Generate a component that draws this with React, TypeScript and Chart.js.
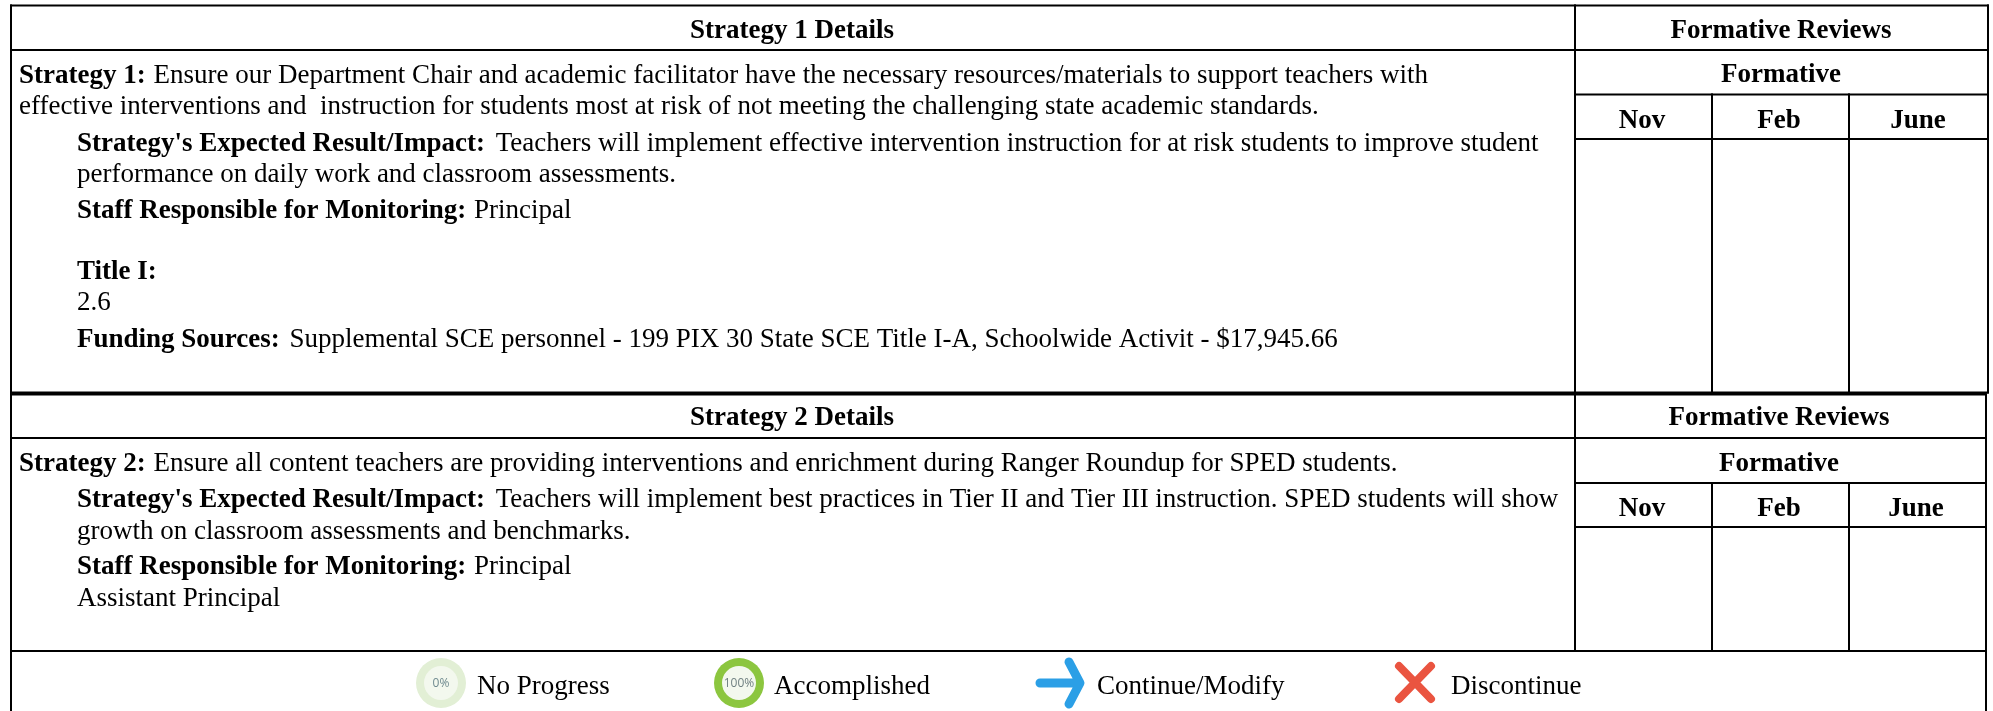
import React, { useEffect, useRef } from "react";
import { Chart, registerables } from "chart.js";

Chart.register(...registerables);

const headerTitles = ["Strategy 1 Details", "Strategy 2 Details"];
const reviewTitle = "Formative Reviews";
const reviewSubtitle = "Formative";
const reviewMonths = ["Nov", "Feb", "June"];

const strategy1Lines: [string, string][] = [
  ["Strategy 1:", " Ensure our Department Chair and academic facilitator have the necessary resources/materials to support teachers with"],
  ["", "effective interventions and  instruction for students most at risk of not meeting the challenging state academic standards."],
  ["Strategy's Expected Result/Impact:", " Teachers will implement effective intervention instruction for at risk students to improve student"],
  ["", "performance on daily work and classroom assessments."],
  ["Staff Responsible for Monitoring:", " Principal"],
  ["Title I:", ""],
  ["", "2.6"],
  ["Funding Sources:", " Supplemental SCE personnel - 199 PIX 30 State SCE Title I-A, Schoolwide Activit - $17,945.66"],
];
const strategy2Lines: [string, string][] = [
  ["Strategy 2:", " Ensure all content teachers are providing interventions and enrichment during Ranger Roundup for SPED students."],
  ["Strategy's Expected Result/Impact:", " Teachers will implement best practices in Tier II and Tier III instruction. SPED students will show"],
  ["", "growth on classroom assessments and benchmarks."],
  ["Staff Responsible for Monitoring:", " Principal"],
  ["", "Assistant Principal"],
];
const legendLabels = ["No Progress", "Accomplished", "Continue/Modify", "Discontinue"];
const progressLabels = ["0%", "100%"];

// Layout, in the pixel units of the two page-sized linear scales.
const W = 1993, H = 711;
const FONT = '"Liberation Serif"';
const SIZE = 27, SX = 1;
const L = 11;
const s1Base = [83, 114, 151, 182, 218, 279, 310, 347];
const s1X = [19, 19, 77, 77, 77, 77, 77, 77];
const s1Gap = [1, 0, 4, 0, 1, 0, 0, 3];
const s1Spacing = [0, 0, 0, 0, 0, 0, 0, 0.35];
const s2Base = [471, 507, 539, 574, 606];
const s2X = [19, 77, 77, 77, 77];
const s2Gap = [1, 4, 0, 1, 0];
const s2Spacing = [0, 0, 0, 0, 0];
const legendTextX = [477, 774, 1097, 1451];

const GAP = { x: NaN, y: NaN };
const seg = (x1: number, y1: number, x2: number, y2: number) => [{ x: x1, y: y1 }, { x: x2, y: y2 }, GAP];
const rules = [
  seg(L, 5.5, 1988, 5.5), seg(L, 50, 1988, 50), seg(1575, 94.5, 1988, 94.5), seg(1575, 139, 1988, 139),
  seg(L, 392.5, 1988, 392.5), seg(L, 394.5, 1986, 394.5), seg(L, 438, 1986, 438),
  seg(1575, 483, 1986, 483), seg(1575, 527, 1986, 527), seg(L, 651, 1986, 651),
  seg(L, 5, L, 711), seg(1988, 5, 1988, 393), seg(1986, 394, 1986, 711),
  seg(1575, 5, 1575, 651), seg(1712, 94, 1712, 392), seg(1849, 94, 1849, 392),
  seg(1712, 483, 1712, 651), seg(1849, 483, 1849, 651),
].flat();
const arrowPath = [{ x: 1040, y: 683 }, { x: 1078, y: 683 }, GAP, { x: 1069, y: 662 }, { x: 1080, y: 683 }, { x: 1069, y: 704 }];
const crossPath = [{ x: 1399, y: 666 }, { x: 1431, y: 699 }, GAP, { x: 1431, y: 666 }, { x: 1399, y: 699 }];

const tablePlugin = {
  id: "tableText",
  afterDatasetsDraw(chart: any) {
    const { ctx, scales: { x, y } } = chart;
    const put = (t: string, px: number, py: number, bold = false, size = SIZE, align = "left", color = "#000", family = FONT, spacing = 0) => {
      ctx.save();
      ctx.font = `${bold ? "bold " : ""}${size}px ${family}`;
      ctx.wordSpacing = `${spacing}px`;
      ctx.fillStyle = color;
      ctx.textBaseline = "alphabetic";
      const w = ctx.measureText(t).width * SX;
      const left = x.getPixelForValue(align === "center" ? px - w / 2 : px);
      ctx.translate(left, y.getPixelForValue(py));
      ctx.scale(SX, 1);
      ctx.fillText(t, 0, 0);
      ctx.restore();
      return w;
    };
    const block = (lines: [string, string][], xs: number[], bases: number[], gaps: number[], spacing: number[]) =>
      lines.forEach(([b, n], i) => {
        const w = b ? put(b, xs[i], bases[i], true) : 0;
        if (n) put(n, xs[i] + w + gaps[i], bases[i], false, SIZE, "left", "#000", FONT, spacing[i]);
      });
    block(strategy1Lines, s1X, s1Base, s1Gap, s1Spacing);
    block(strategy2Lines, s2X, s2Base, s2Gap, s2Spacing);
    put(headerTitles[0], 792, 38, true, SIZE, "center");
    put(headerTitles[1], 792, 425, true, SIZE, "center");
    put(reviewTitle, 1781, 38, true, SIZE, "center");
    put(reviewTitle, 1779, 425, true, SIZE, "center");
    put(reviewSubtitle, 1781, 82, true, SIZE, "center");
    put(reviewSubtitle, 1779, 471, true, SIZE, "center");
    [1642, 1779, 1918].forEach((c, i) => put(reviewMonths[i], c, 128, true, SIZE, "center"));
    [1642, 1779, 1916].forEach((c, i) => put(reviewMonths[i], c, 516, true, SIZE, "center"));

    const ring = (cx: number, outer: string, inner: string) => {
      ctx.fillStyle = outer;
      ctx.beginPath();
      ctx.arc(x.getPixelForValue(cx), y.getPixelForValue(683), 25, 0, 2 * Math.PI);
      ctx.fill();
      ctx.fillStyle = inner;
      ctx.beginPath();
      ctx.arc(x.getPixelForValue(cx), y.getPixelForValue(683), 17, 0, 2 * Math.PI);
      ctx.fill();
    };
    ring(441, "#e2efd5", "#f3f8ee");
    ring(739, "#8cc63f", "#f3f8ee");
    put(progressLabels[0], 441, 687, false, 12, "center", "#6f8a8f", '"Open Sans"');
    put(progressLabels[1], 739, 687, false, 12, "center", "#6f7f80", '"Open Sans"');
    legendLabels.forEach((t, i) => put(t, legendTextX[i], 694));
  },
};

export default function App() {
  const ref = useRef<HTMLCanvasElement>(null);
  useEffect(() => {
    const line = { showLine: true, pointRadius: 0, spanGaps: false, borderCapStyle: "round", borderJoinStyle: "round" };
    const chart = new Chart(ref.current!, {
      type: "scatter",
      data: {
        datasets: [
          { ...line, data: rules, borderColor: "#000", borderWidth: 2, borderCapStyle: "butt" },
          { ...line, data: arrowPath, borderColor: "#2b9fe6", borderWidth: 9 },
          { ...line, data: crossPath, borderColor: "#ea5440", borderWidth: 8 },
        ],
      } as any,
      options: {
        animation: false,
        responsive: false,
        layout: { padding: 0 },
        plugins: { legend: { display: false }, tooltip: { enabled: false } },
        scales: {
          x: { type: "linear", min: 0, max: W, display: false },
          y: { type: "linear", min: 0, max: H, reverse: true, display: false },
        },
      },
      plugins: [tablePlugin],
    });
    return () => chart.destroy();
  }, []);
  return (
    <canvas
      ref={ref}
      width={W}
      height={H}
      style={{ position: "fixed", left: 0, top: 0, width: W, height: H, background: "#fff" }}
    />
  );
}
